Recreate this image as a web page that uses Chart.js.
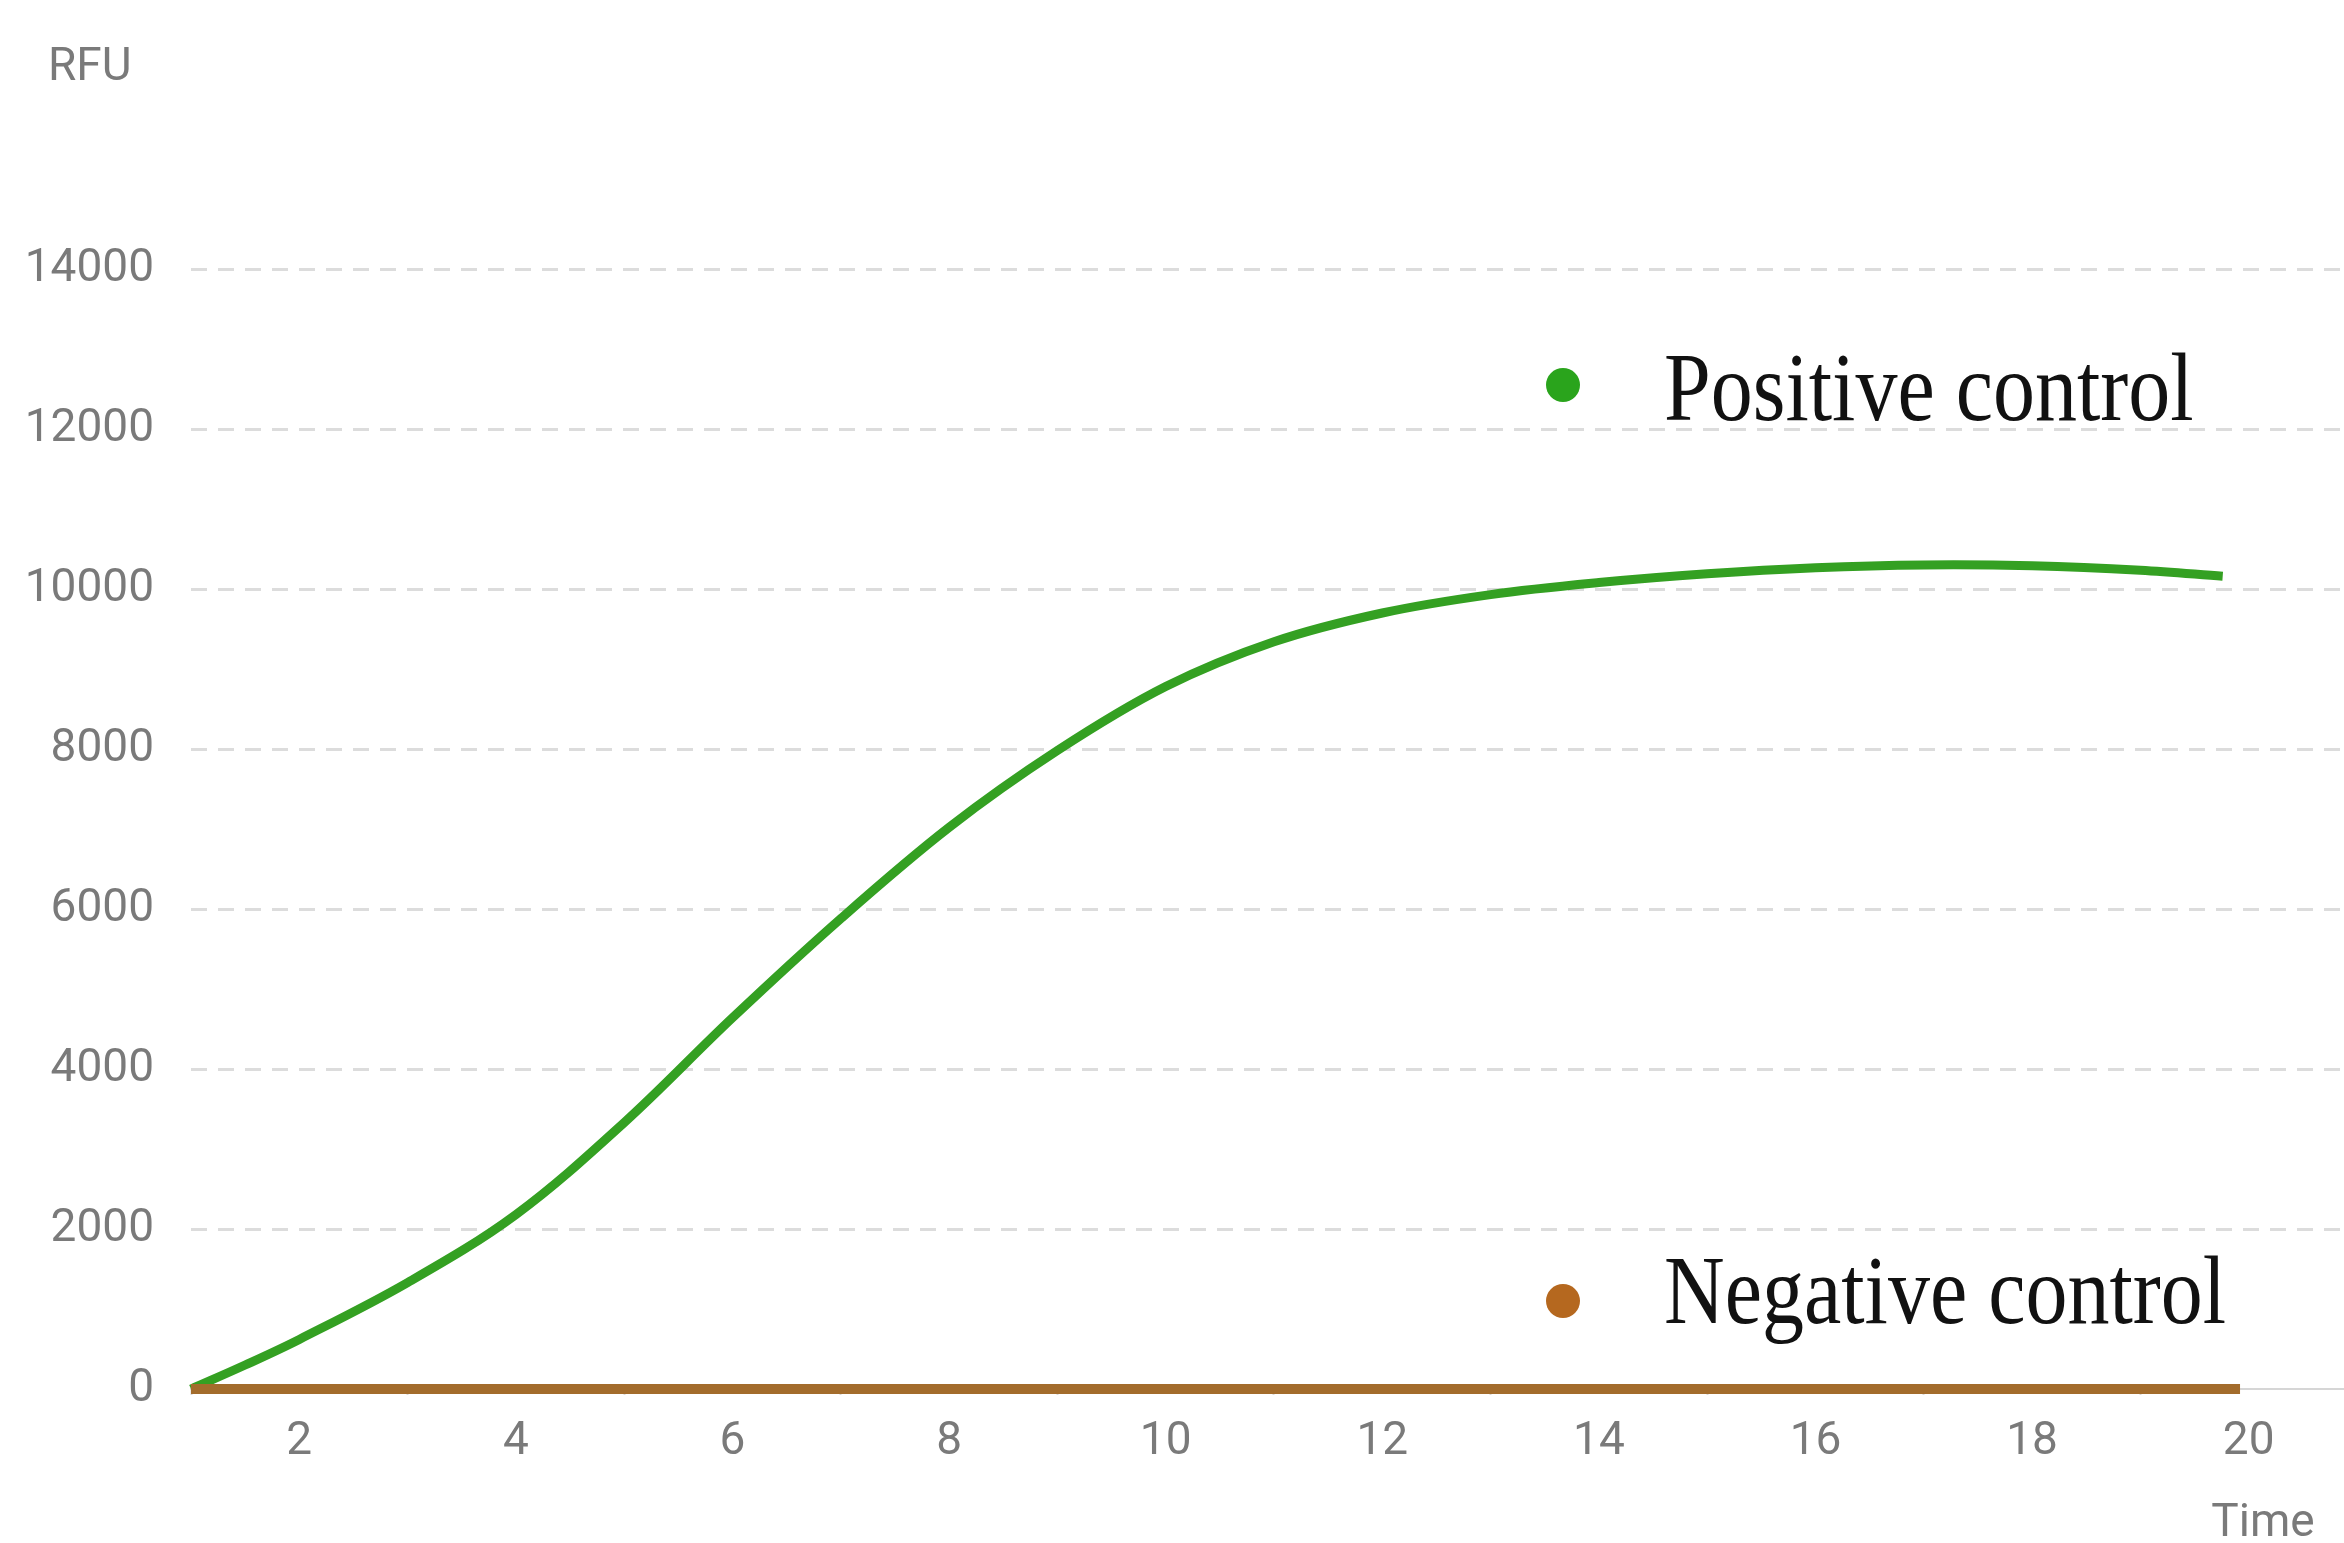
<!DOCTYPE html>
<html>
<head>
<meta charset="utf-8">
<title>RFU curve</title>
<script src="https://cdn.jsdelivr.net/npm/chart.js@4.4.1/dist/chart.umd.min.js"></script>
<style>
  html, body { margin: 0; padding: 0; background: #fff; overflow: hidden; }
</style>
</head>
<body>
<canvas id="rfuChart" width="2344" height="1543"></canvas>
<script>
// values
const positiveTime = [1, 1.5, 2, 3, 4, 5, 6, 7, 8, 9, 10, 11, 12, 13, 14, 15, 16, 17, 18, 19, 19.76];
const positiveControl = [0, 300, 620, 1330, 2180, 3330, 4640, 5880, 7020, 7980, 8780, 9340, 9700, 9930, 10080, 10190, 10265, 10300, 10290, 10235, 10160];
const negativeTime = [1, 3, 5, 7, 9, 11, 13, 15, 17, 19, 19.92];
const negativeControl = [0, 0, 0, 0, 0, 0, 0, 0, 0, 0, 0];
const yTicks = [0, 2000, 4000, 6000, 8000, 10000, 12000, 14000];
const xLabels = [2, 4, 6, 8, 10, 12, 14, 16, 18, 20];

const toPoints = (xs, ys) => xs.map((x, i) => ({ x: x, y: ys[i] }));

const tickFont = { family: 'Roboto', size: 46 };
const tickColor = '#7a7a7a';

// axis captions and the in-plot legend
const annotations = {
  id: 'annotations',
  afterDraw(chart) {
    const ctx = chart.ctx;
    ctx.save();
    ctx.fillStyle = tickColor;
    ctx.font = '46px Roboto';
    ctx.textBaseline = 'alphabetic';
    ctx.textAlign = 'left';
    ctx.fillText('RFU', 48, 80);
    ctx.textAlign = 'center';
    ctx.fillText('Time', 2263, 1536);

    const spots = [
      { label: 'Positive control', dot: [1563, 385], text: [1664, 420] },
      { label: 'Negative control', dot: [1563, 1301], text: [1664, 1323] }
    ];
    spots.forEach(s => {
      const ds = chart.data.datasets.find(d => d.label === s.label);
      ctx.fillStyle = ds.backgroundColor;
      ctx.beginPath();
      ctx.arc(s.dot[0], s.dot[1], 17, 0, Math.PI * 2);
      ctx.fill();
      ctx.save();
      ctx.translate(s.text[0], s.text[1]);
      ctx.scale(1, 1.15);
      ctx.fillStyle = '#111';
      ctx.font = '84px "Liberation Serif"';
      ctx.textAlign = 'left';
      ctx.fillText(s.label, 0, 0);
      ctx.restore();
    });
    ctx.restore();
  }
};

const ctx = document.getElementById('rfuChart').getContext('2d');
new Chart(ctx, {
  type: 'line',
  data: {
    datasets: [
      {
        label: 'Negative control',
        data: toPoints(negativeTime, negativeControl),
        borderColor: '#a36c2c',
        backgroundColor: '#b5681f',
        borderWidth: 10,
        pointRadius: 0,
        clip: false,
        order: 0
      },
      {
        label: 'Positive control',
        data: toPoints(positiveTime, positiveControl),
        borderColor: '#34a022',
        backgroundColor: '#2aa41c',
        borderWidth: 9,
        pointRadius: 0,
        tension: 0.35,
        clip: false,
        order: 1
      }
    ]
  },
  options: {
    responsive: false,
    animation: false,
    devicePixelRatio: 1,
    layout: { padding: { top: 269, right: 0, left: 0, bottom: 0 } },
    plugins: {
      legend: { display: false },
      tooltip: { enabled: false }
    },
    scales: {
      x: {
        type: 'linear',
        min: 1,
        max: 20.88,
        afterFit: scale => { scale.height = 154; },
        afterBuildTicks: scale => {
          const ticks = [];
          for (let v = 1; v <= 20; v++) ticks.push({ value: v });
          scale.ticks = ticks;
        },
        ticks: {
          autoSkip: false,
          maxRotation: 0,
          padding: 20,
          color: tickColor,
          font: tickFont,
          callback: v => xLabels.includes(v) ? String(v) : ''
        },
        grid: {
          drawOnChartArea: false,
          drawTicks: true,
          tickLength: 6,
          tickWidth: 2,
          tickColor: c => (c.tick && c.tick.value % 2 === 1) ? '#d8d8d8' : 'rgba(0,0,0,0)'
        },
        border: { display: true, color: '#d6d6d6', width: 2 }
      },
      y: {
        min: 0,
        max: 14000,
        afterFit: scale => { scale.width = 191; },
        afterBuildTicks: scale => { scale.ticks = yTicks.map(v => ({ value: v })); },
        ticks: {
          padding: 37,
          color: tickColor,
          font: tickFont,
          callback: v => String(v)
        },
        grid: {
          drawTicks: false,
          lineWidth: 3,
          color: c => (c.tick && c.tick.value === 0) ? 'rgba(0,0,0,0)' : '#dcdcdc'
        },
        border: { display: false, dash: [16, 11] }
      }
    }
  },
  plugins: [annotations]
});
</script>
</body>
</html>
